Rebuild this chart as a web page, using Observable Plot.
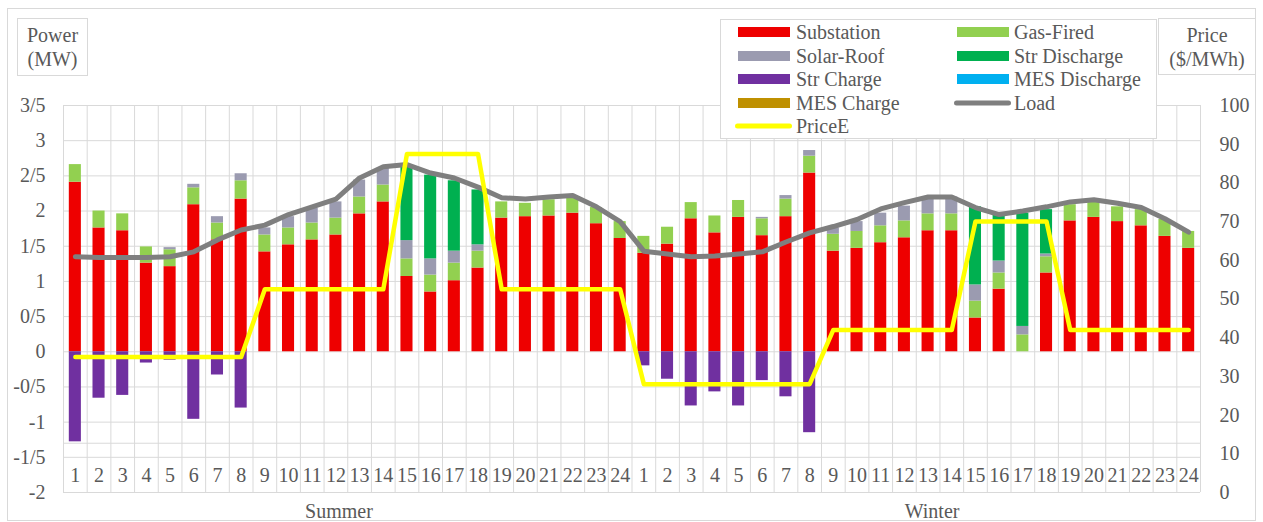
<!DOCTYPE html>
<html>
<head>
<meta charset="utf-8">
<script src="https://cdn.jsdelivr.net/npm/d3@7"></script>
<script src="https://cdn.jsdelivr.net/npm/@observablehq/plot@0.6"></script>
<style>
  html, body { margin: 0; padding: 0; background: #fff; }
  #wrap { position: relative; width: 1263px; height: 522px; font-family: "Liberation Serif", "Times New Roman", serif; color: #595959; font-size: 20px; }
  #wrap svg { position: absolute; left: 0; top: 0; }
  .box { position: absolute; box-sizing: border-box; border: 1px solid #D9D9D9; background: #fff; }
  .lbl { position: absolute; white-space: nowrap; line-height: 20px; transform: translateY(-50%); }
  .sw { position: absolute; height: 10px; transform: translateY(-50%); }
  .ln { position: absolute; height: 5px; border-radius: 3px; transform: translateY(-50%); }
  .ctext { position: absolute; text-align: center; line-height: 24px; }
</style>
</head>
<body>
<div id="wrap"></div>
<script>
// ---------- data ----------
const seasons = ["Summer", "Winter"];
const hours = [1,2,3,4,5,6,7,8,9,10,11,12,13,14,15,16,17,18,19,20,21,22,23,24];

// Summer hours 1-24, then Winter hours 1-24 (MW)
const substation = [
  2.41,1.76,1.72,1.26,1.21,2.09,1.59,2.17,1.42,1.52,1.59,1.66,1.96,2.13,1.07,0.85,1.01,1.19,1.90,1.92,1.93,1.97,1.82,1.61,
  1.40,1.53,1.89,1.69,1.91,1.65,1.92,2.54,1.43,1.47,1.55,1.62,1.72,1.72,0.48,0.89,0.00,1.12,1.86,1.91,1.85,1.79,1.64,1.47
];
const gasFired = [
  0.25,0.24,0.24,0.23,0.24,0.24,0.24,0.26,0.24,0.24,0.24,0.24,0.24,0.24,0.25,0.24,0.25,0.24,0.23,0.19,0.23,0.22,0.23,0.24,
  0.24,0.24,0.23,0.24,0.24,0.24,0.25,0.24,0.24,0.24,0.24,0.24,0.24,0.24,0.24,0.23,0.24,0.23,0.23,0.22,0.21,0.23,0.24,0.24
];
const solarRoof = [
  0,0,0,0,0.03,0.05,0.09,0.10,0.10,0.16,0.21,0.23,0.24,0.24,0.26,0.23,0.17,0.09,0,0,0,0,0,0,
  0,0,0,0,0,0.02,0.05,0.08,0.09,0.14,0.18,0.21,0.21,0.24,0.23,0.17,0.12,0.04,0,0,0,0,0,0
];
const strDischarge = [
  0,0,0,0,0,0,0,0,0,0,0,0,0,0,1.05,1.19,1.00,0.78,0,0,0,0,0,0,
  0,0,0,0,0,0,0,0,0,0,0,0,0,0,1.11,0.66,1.61,0.63,0,0,0,0,0,0
];
const mesDischarge = [
  0,0,0,0,0,0,0,0,0,0,0,0,0,0,0,0,0,0,0,0,0,0,0,0,
  0,0,0,0,0,0,0,0,0,0,0,0,0,0,0,0,0,0,0,0,0,0,0,0
];
const strCharge = [
  -1.28,-0.66,-0.62,-0.16,-0.12,-0.96,-0.33,-0.80,0,0,0,0,0,0,0,0,0,0,0,0,0,0,0,0,
  -0.20,-0.39,-0.77,-0.57,-0.77,-0.41,-0.64,-1.15,0,0,0,0,0,0,0,0,0,0,0,0,0,0,0,0
];
const mesCharge = [
  0,0,0,0,0,0,0,0,0,0,0,0,0,0,0,0,0,0,0,0,0,0,0,0,
  0,0,0,0,0,0,0,0,0,0,0,0,0,0,0,0,0,0,0,0,0,0,0,0
];
const load = [
  1.35,1.34,1.34,1.34,1.35,1.42,1.59,1.73,1.80,1.95,2.06,2.17,2.47,2.63,2.66,2.54,2.47,2.34,2.19,2.17,2.20,2.22,2.06,1.85,
  1.43,1.39,1.35,1.36,1.39,1.42,1.56,1.69,1.78,1.88,2.03,2.12,2.20,2.20,2.05,1.95,2.00,2.06,2.13,2.16,2.11,2.05,1.89,1.70
];
// $/MWh
const priceE = [
  35,35,35,35,35,35,35,35,52.5,52.5,52.5,52.5,52.5,52.5,87.5,87.5,87.5,87.5,52.5,52.5,52.5,52.5,52.5,52.5,
  28,28,28,28,28,28,28,28,42,42,42,42,42,42,70,70,70,70,42,42,42,42,42,42
];

const powerTicks = [-2,-1.5,-1,-0.5,0,0.5,1,1.5,2,2.5,3,3.5];
const powerTickLabels = ["-2","-1/5","-1","-0/5","0","0/5","1","1/5","2","2/5","3","3/5"];
const priceTicks = [0,10,20,30,40,50,60,70,80,90,100];

const seriesNames = ["Substation","Gas-Fired","Solar-Roof","Str Discharge","MES Discharge","Str Charge","MES Charge"];
const seriesColors = ["#EE0000","#92D050","#9B9BB0","#00B050","#00B0F0","#7030A0","#BF9000"];
const seriesValues = [substation, gasFired, solarRoof, strDischarge, mesDischarge, strCharge, mesCharge];

// ---------- derived tables ----------
const keys = seasons.flatMap(s => hours.map(h => s[0] + h));
const hourOf = k => k.slice(1);
const powerMin = -2, powerMax = 3.5, priceMin = 0, priceMax = 100;
const priceToPower = p => powerMin + (p - priceMin) * (powerMax - powerMin) / (priceMax - priceMin);
const powerToPrice = v => priceMin + (v - powerMin) * (priceMax - priceMin) / (powerMax - powerMin);

const stacked = [];
keys.forEach((k, i) => {
  seriesNames.forEach((s, j) => {
    const v = seriesValues[j][i];
    if (v !== 0) stacked.push({key: k, series: s, value: v});
  });
});
const lineRows = keys.map((k, i) => ({key: k, load: load[i], price: priceToPower(priceE[i])}));

const step = (1200 - 63) / keys.length;
const grid = "#D9D9D9";

const chart = Plot.plot({
  width: 1263,
  height: 522,
  marginLeft: 63,
  marginRight: 63,
  marginTop: 105,
  marginBottom: 30,
  style: {fontFamily: "'Liberation Serif', 'Times New Roman', serif", fontSize: "20px", color: "#595959", background: "transparent", overflow: "visible"},
  x: {type: "band", domain: keys, paddingInner: 0.49, paddingOuter: 0.245, axis: null},
  y: {domain: [powerMin, powerMax], axis: null},
  color: {domain: seriesNames, range: seriesColors},
  marks: [
    // horizontal grid
    Plot.ruleY(powerTicks, {stroke: grid, strokeWidth: 1}),
    Plot.ruleY([-1.3], {stroke: grid, strokeWidth: 1}),
    // vertical category separators
    Plot.ruleX(keys, {x: d => d, y1: powerMin, y2: powerMax, dx: -step / 2, stroke: grid, strokeWidth: 1}),
    Plot.ruleX(keys.slice(-1), {x: d => d, y1: powerMin, y2: powerMax, dx: step / 2, stroke: grid, strokeWidth: 1}),
    // stacked bars
    Plot.barY(stacked, {x: "key", y: "value", fill: "series", order: seriesNames}),
    // load and price lines
    Plot.lineY(lineRows, {x: "key", y: "load", stroke: "#7F7F7F", strokeWidth: 5, strokeLinejoin: "round"}),
    Plot.lineY(lineRows, {x: "key", y: "price", stroke: "#FFFF00", strokeWidth: 4.5, strokeLinejoin: "round"}),
    // axes
    Plot.axisY(powerTicks, {anchor: "left", tickSize: 0, tickPadding: 18, label: null,
      tickFormat: d => powerTickLabels[powerTicks.indexOf(d)]}),
    Plot.axisY(priceTicks.map(priceToPower), {anchor: "right", tickSize: 0, tickPadding: 19, label: null, textAnchor: "start",
      tickFormat: d => String(Math.round(powerToPrice(d)))}),
    // hour labels
    Plot.text(keys, {x: d => d, text: hourOf, frameAnchor: "bottom", dy: -17, lineAnchor: "middle", fill: "#595959"}),
    // season labels
    Plot.text([seasons[0]], {x: () => "S12", text: d => d, frameAnchor: "bottom", dy: 19, dx: 3, lineAnchor: "middle", fill: "#595959"}),
    Plot.text([seasons[1]], {x: () => "W13", text: d => d, frameAnchor: "bottom", dy: 19, dx: 4, lineAnchor: "middle", fill: "#595959"})
  ]
});

const wrap = document.getElementById("wrap");
// outer border
const border = document.createElement("div");
border.className = "box";
Object.assign(border.style, {left: "7px", top: "8px", width: "1249px", height: "513px", background: "transparent"});
wrap.appendChild(border);
wrap.appendChild(chart);

function addBox(left, top, w, h, lines) {
  const b = document.createElement("div");
  b.className = "box";
  Object.assign(b.style, {left: left + "px", top: top + "px", width: w + "px", height: h + "px"});
  const t = document.createElement("div");
  t.className = "ctext";
  Object.assign(t.style, {left: "0", width: "100%", top: ((h - 2 - lines.length * 24) / 2) + "px"});
  t.innerHTML = lines.join("<br>");
  b.appendChild(t);
  wrap.appendChild(b);
}
addBox(17, 18, 71, 58, ["Power", "(MW)"]);
addBox(1158, 18, 98, 57, ["Price", "($/MWh)"]);

// legend
const leg = document.createElement("div");
leg.className = "box";
Object.assign(leg.style, {left: "720px", top: "19px", width: "437px", height: "120px"});
wrap.appendChild(leg);
const legendItems = [
  {name: "Substation", kind: "bar", color: seriesColors[0], col: 0, row: 0},
  {name: "Gas-Fired", kind: "bar", color: seriesColors[1], col: 1, row: 0},
  {name: "Solar-Roof", kind: "bar", color: seriesColors[2], col: 0, row: 1},
  {name: "Str Discharge", kind: "bar", color: seriesColors[3], col: 1, row: 1},
  {name: "Str Charge", kind: "bar", color: seriesColors[5], col: 0, row: 2},
  {name: "MES Discharge", kind: "bar", color: seriesColors[4], col: 1, row: 2},
  {name: "MES Charge", kind: "bar", color: seriesColors[6], col: 0, row: 3},
  {name: "Load", kind: "line", color: "#7F7F7F", col: 1, row: 3},
  {name: "PriceE", kind: "line", color: "#FFFF00", col: 0, row: 4}
];
const rowY = [32, 55.5, 79, 102.5, 126];
const swX = [738, 957];
const txX = [796, 1014];
legendItems.forEach(it => {
  const sw = document.createElement("div");
  sw.className = it.kind === "bar" ? "sw" : "ln";
  const x0 = swX[it.col] - (it.kind === "line" ? 3 : 0);
  const w = 52 + (it.kind === "line" ? 5 : 0);
  Object.assign(sw.style, {left: x0 + "px", top: rowY[it.row] + "px", width: w + "px", background: it.color});
  wrap.appendChild(sw);
  const t = document.createElement("div");
  t.className = "lbl";
  Object.assign(t.style, {left: txX[it.col] + "px", top: rowY[it.row] + "px"});
  t.textContent = it.name;
  wrap.appendChild(t);
});
</script>
</body>
</html>
